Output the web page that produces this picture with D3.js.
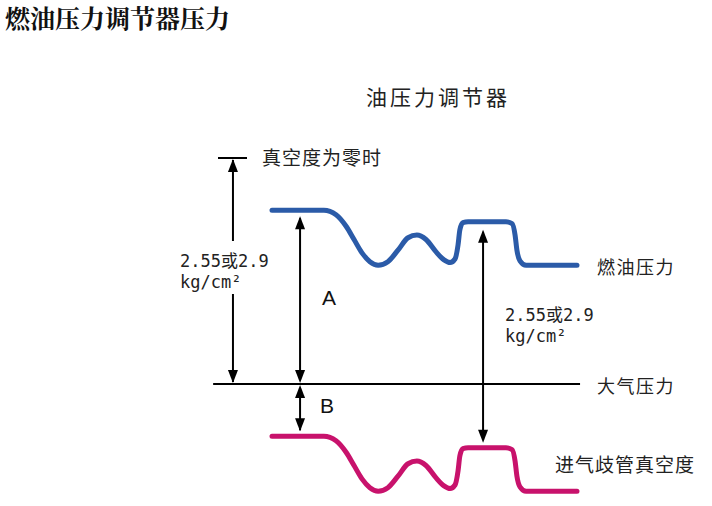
<!DOCTYPE html>
<html><head><meta charset="utf-8">
<script src="https://cdn.jsdelivr.net/npm/d3@7"></script>
<style>body{margin:0;background:#fff}</style>
</head><body><svg id="c" width="712" height="506"></svg>
<script>
// time axis (arbitrary units 0..100) and pressures (kg/cm², relative to atmosphere)
const timeT = [0, 17, 21, 24.3, 26.9, 29.5, 32.1, 34.8, 38, 41.3, 44.6, 47.5, 50.5, 53.8, 56.4, 58.4, 60, 61, 61.6, 62.6, 64.3, 76.7, 78.7, 79.7, 80.3, 81.3, 83.3, 100];
const fuelPressure = [1.96, 1.96, 1.91, 1.78, 1.63, 1.48, 1.38, 1.34, 1.38, 1.51, 1.65, 1.68, 1.63, 1.49, 1.40, 1.37, 1.41, 1.57, 1.74, 1.82, 1.83, 1.83, 1.81, 1.68, 1.51, 1.39, 1.34, 1.34];
const manifoldVacuum = [-0.59, -0.59, -0.64, -0.77, -0.92, -1.07, -1.17, -1.21, -1.17, -1.04, -0.90, -0.87, -0.92, -1.06, -1.15, -1.18, -1.14, -0.98, -0.81, -0.73, -0.72, -0.72, -0.74, -0.87, -1.04, -1.16, -1.21, -1.21];
const regulatorPressure = 2.55;
const atmosphere = 0;
const seriesNames = ["燃油压力", "进气歧管真空度"];
const seriesColors = ["#2b5ba8", "#c8126c"];
const title = "燃油压力调节器压力";
const subtitle = "油压力调节器";
const zeroVacuumLabel = "真空度为零时";
const atmosphereLabel = "大气压力";
const pressureLabel = ["2.55或2.9", "kg/cm²"];
// arrow positions along the time axis
const arrowLeftT = -12.8, arrowABT = 9.2, arrowRightT = 69.2;

const svg = d3.select("#c");
const x = d3.scaleLinear().domain([0, 100]).range([272, 577]);
const y = d3.scaleLinear().domain([0, 2.55]).range([384, 158]);
const CJK = "'Noto Sans CJK SC','Noto Sans',sans-serif";
const MONO = "'DejaVu Sans Mono','Noto Sans CJK SC',monospace";

svg.append("text").attr("x", 5).attr("y", 28).attr("font-family", "'Noto Serif CJK SC','Noto Sans CJK SC',serif")
  .attr("font-size", 25).attr("font-weight", 700).attr("fill", "#111").text(title);
svg.append("text").attr("x", 366).attr("y", 105).attr("font-family", CJK)
  .attr("font-size", 21).attr("letter-spacing", 3).attr("fill", "#222").text(subtitle);

const line = d3.line().x((d, i) => x(timeT[i])).y(d => y(d)).curve(d3.curveMonotoneX);
[fuelPressure, manifoldVacuum].forEach((s, k) => {
  svg.append("path").attr("d", line(s)).attr("fill", "none")
    .attr("stroke", seriesColors[k]).attr("stroke-width", 5).attr("stroke-linecap", "round").attr("stroke-linejoin", "round");
});

// atmosphere line
svg.append("line").attr("x1", x(-19.3)).attr("x2", x(101)).attr("y1", y(atmosphere)).attr("y2", y(atmosphere))
  .attr("stroke", "#000").attr("stroke-width", 2);
// zero-vacuum tick
svg.append("line").attr("x1", x(-17.7)).attr("x2", x(-8.2)).attr("y1", y(regulatorPressure)).attr("y2", y(regulatorPressure))
  .attr("stroke", "#000").attr("stroke-width", 2);

function head(px, tip, dir) { // dir -1 up, +1 down
  const L = 13, W = 5;
  svg.append("path").attr("d", `M${px},${tip} L${px - W},${tip - dir * L} L${px + W},${tip - dir * L} Z`).attr("fill", "#000");
}
function shaft(px, y1, y2) {
  svg.append("line").attr("x1", px).attr("x2", px).attr("y1", y1).attr("y2", y2).attr("stroke", "#000").attr("stroke-width", 2);
}
// left arrow (with gap for label)
const lx = x(arrowLeftT);
shaft(lx, y(regulatorPressure) + 2, 241); head(lx, y(regulatorPressure) + 1, -1);
shaft(lx, 294, y(atmosphere) - 2); head(lx, y(atmosphere) - 1, 1);
// A arrow
const ax = x(arrowABT);
shaft(ax, y(fuelPressure[0]) + 8, y(atmosphere) - 4); head(ax, y(fuelPressure[0]) + 6, -1); head(ax, y(atmosphere) - 1, 1);
// B arrow
shaft(ax, y(atmosphere) + 4, y(manifoldVacuum[0]) - 6); head(ax, y(atmosphere) + 1, -1); head(ax, y(manifoldVacuum[0]) - 5, 1);
// right arrow
const rx = x(arrowRightT);
shaft(rx, y(fuelPressure[20]) + 10, y(manifoldVacuum[20]) - 8); head(rx, y(fuelPressure[20]) + 8, -1); head(rx, y(manifoldVacuum[20]) - 5, 1);

// labels
svg.append("text").attr("x", 262).attr("y", 165).attr("font-family", CJK).attr("font-size", 19).attr("letter-spacing", 1).attr("fill", "#222").text(zeroVacuumLabel);
svg.append("text").attr("x", 597).attr("y", 274).attr("font-family", CJK).attr("font-size", 18).attr("letter-spacing", 1.5).attr("fill", "#222").text(seriesNames[0]);
svg.append("text").attr("x", 597).attr("y", 393).attr("font-family", CJK).attr("font-size", 18).attr("letter-spacing", 1.5).attr("fill", "#222").text(atmosphereLabel);
svg.append("text").attr("x", 555).attr("y", 472).attr("font-family", CJK).attr("font-size", 19).attr("letter-spacing", 1).attr("fill", "#222").text(seriesNames[1]);
svg.append("text").attr("x", 322).attr("y", 305).attr("font-family", "'Liberation Sans',Arial,sans-serif").attr("font-size", 21).attr("fill", "#111").text("A");
svg.append("text").attr("x", 320).attr("y", 413).attr("font-family", "'Liberation Sans',Arial,sans-serif").attr("font-size", 21).attr("fill", "#111").text("B");
[[180, 267, 288], [505, 321, 342]].forEach(([tx, b1, b2]) => {
  svg.append("text").attr("x", tx).attr("y", b1).attr("font-family", MONO).attr("font-size", 17).attr("fill", "#222").text(pressureLabel[0]);
  svg.append("text").attr("x", tx).attr("y", b2).attr("font-family", MONO).attr("font-size", 17).attr("fill", "#222").text(pressureLabel[1]);
});
</script></body></html>
